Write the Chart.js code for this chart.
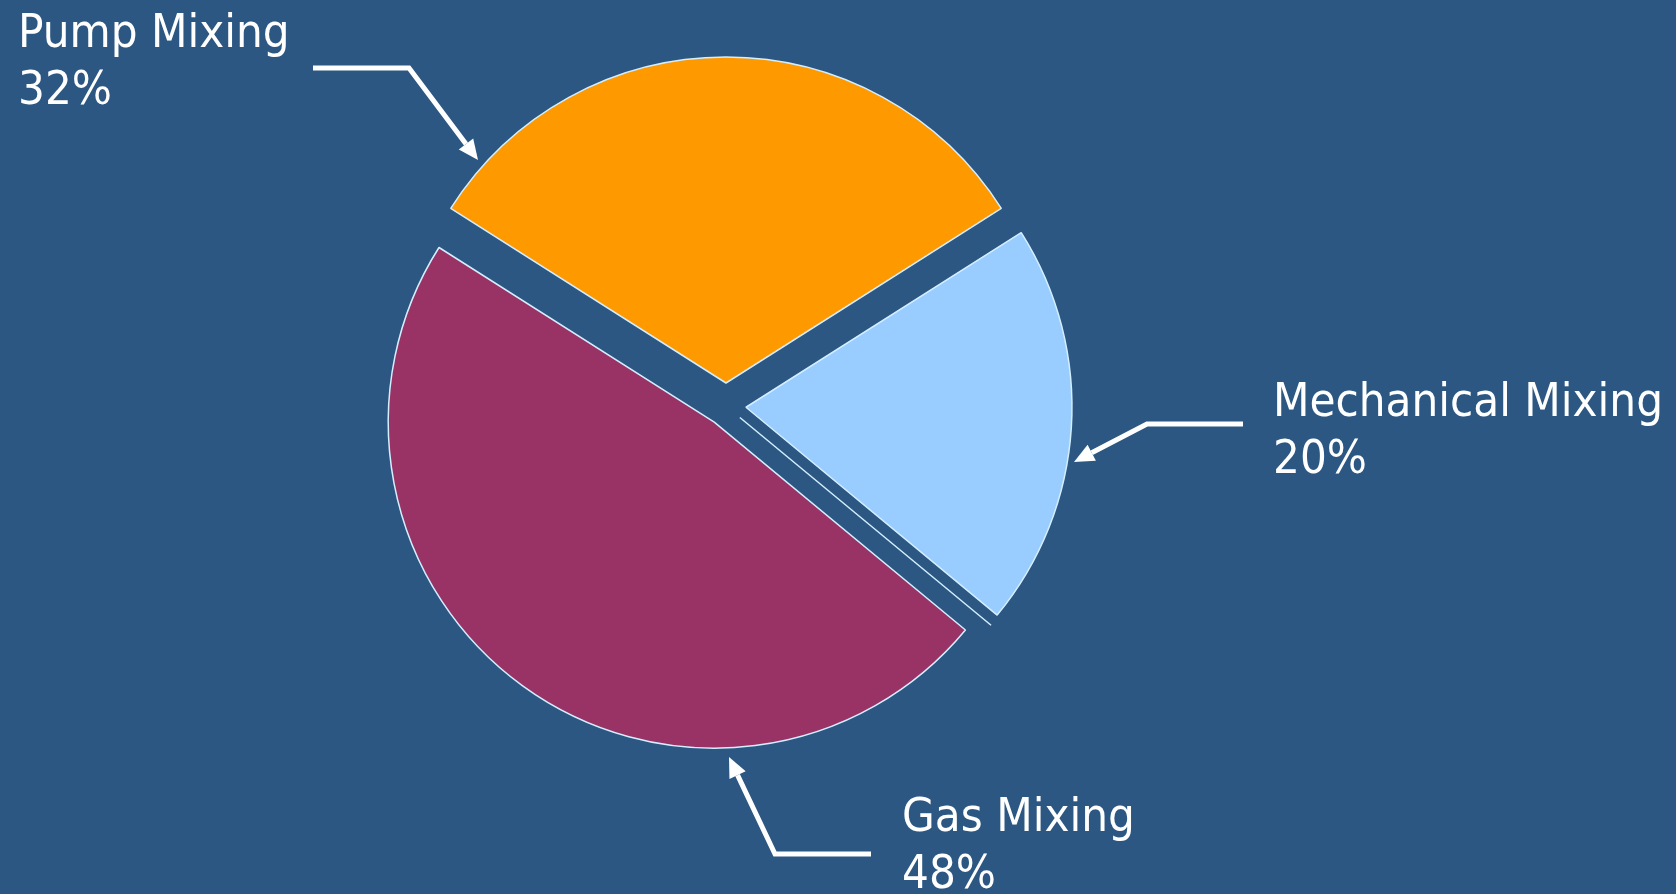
<!DOCTYPE html>
<html>
<head>
<meta charset="utf-8">
<script src="https://cdn.jsdelivr.net/npm/chart.js@4/dist/chart.umd.min.js"></script>
<style>
  html, body { margin: 0; padding: 0; background: #2b5782; }
  #wrap { width: 1676px; height: 894px; position: relative; }
</style>
</head>
<body>
<div id="wrap"><canvas id="pie"></canvas></div>
<script>
// chart data
const categories = ["Pump Mixing", "Mechanical Mixing", "Gas Mixing"];
const shares = [32, 20, 48];
const sliceColors = ["#ff9900", "#99ccff", "#993366"];

// how far each slice is pulled away from the centre (px)
const pullOut = [23, 20, 20];

// callout placement for each category: text anchor, elbow line and arrow tip
const callouts = [
    { text: [18, 47], line: [[313, 68], [409, 68]], tip: [478, 160] },
    { text: [1273, 416], line: [[1243, 424], [1147, 424]], tip: [1074, 462] },
    { text: [902, 831], line: [[871, 854], [775, 854]], tip: [729, 757] }
];

// chart.js "offset" also grows the radius of wide slices, so shift the arc centres ourselves
let seam = null;
const explodePlugin = {
    id: "explode",
    afterDatasetUpdate(chart, args) {
        const arcs = args.meta.data;
        // thin leftover edge in the gap between mechanical and gas slices
        const a = arcs[1].endAngle, r = arcs[1].outerRadius;
        seam = { x: arcs[1].x, y: arcs[1].y, a: a, r0: 18, r1: r + 18 };
        arcs.forEach((arc, i) => {
            const mid = (arc.startAngle + arc.endAngle) / 2;
            arc.x += Math.cos(mid) * pullOut[i];
            arc.y += Math.sin(mid) * pullOut[i];
        });
    },
    afterDatasetsDraw(chart) {
        if (!seam) return;
        const ctx = chart.ctx;
        ctx.save();
        ctx.strokeStyle = "#d4efff";
        ctx.lineWidth = 1.5;
        ctx.beginPath();
        ctx.moveTo(seam.x + Math.cos(seam.a) * seam.r0, seam.y + Math.sin(seam.a) * seam.r0);
        ctx.lineTo(seam.x + Math.cos(seam.a) * seam.r1, seam.y + Math.sin(seam.a) * seam.r1);
        ctx.stroke();
        ctx.restore();
    }
};

const calloutPlugin = {
    id: "callouts",
    afterDraw(chart) {
        const ctx = chart.ctx;
        ctx.save();
        ctx.strokeStyle = "#ffffff";
        ctx.fillStyle = "#ffffff";
        ctx.lineWidth = 5;
        callouts.forEach((c, i) => {
            const [a, b] = c.line;
            const [tx, ty] = c.tip;
            const ang = Math.atan2(ty - b[1], tx - b[0]);
            const headLen = 20, headW = 9;
            const bx = tx - Math.cos(ang) * headLen, by = ty - Math.sin(ang) * headLen;
            ctx.beginPath();
            ctx.moveTo(a[0], a[1]);
            ctx.lineTo(b[0], b[1]);
            ctx.lineTo(bx, by);
            ctx.stroke();
            ctx.beginPath();
            ctx.moveTo(tx, ty);
            ctx.lineTo(bx - Math.sin(ang) * headW, by + Math.cos(ang) * headW);
            ctx.lineTo(bx + Math.sin(ang) * headW, by - Math.cos(ang) * headW);
            ctx.closePath();
            ctx.fill();

            ctx.font = "47px 'DejaVu Sans Condensed', 'DejaVu Sans', sans-serif";
            ctx.textAlign = "left";
            ctx.textBaseline = "alphabetic";
            ctx.fillText(categories[i], c.text[0], c.text[1]);
            ctx.fillText(shares[i] + "%", c.text[0], c.text[1] + 57);
        });
        ctx.restore();
    }
};

new Chart(document.getElementById("pie"), {
    type: "pie",
    data: {
        labels: categories,
        datasets: [{
            data: shares,
            backgroundColor: sliceColors,
            borderColor: "#d4efff",
            borderWidth: 1.5
        }]
    },
    options: {
        responsive: true,
        maintainAspectRatio: false,
        animation: false,
        rotation: -57.6,
        radius: 326,
        layout: { padding: { left: 0, right: 224, top: 0, bottom: 82 } },
        plugins: {
            legend: { display: false },
            tooltip: { enabled: false }
        }
    },
    plugins: [explodePlugin, calloutPlugin]
});
</script>
</body>
</html>
